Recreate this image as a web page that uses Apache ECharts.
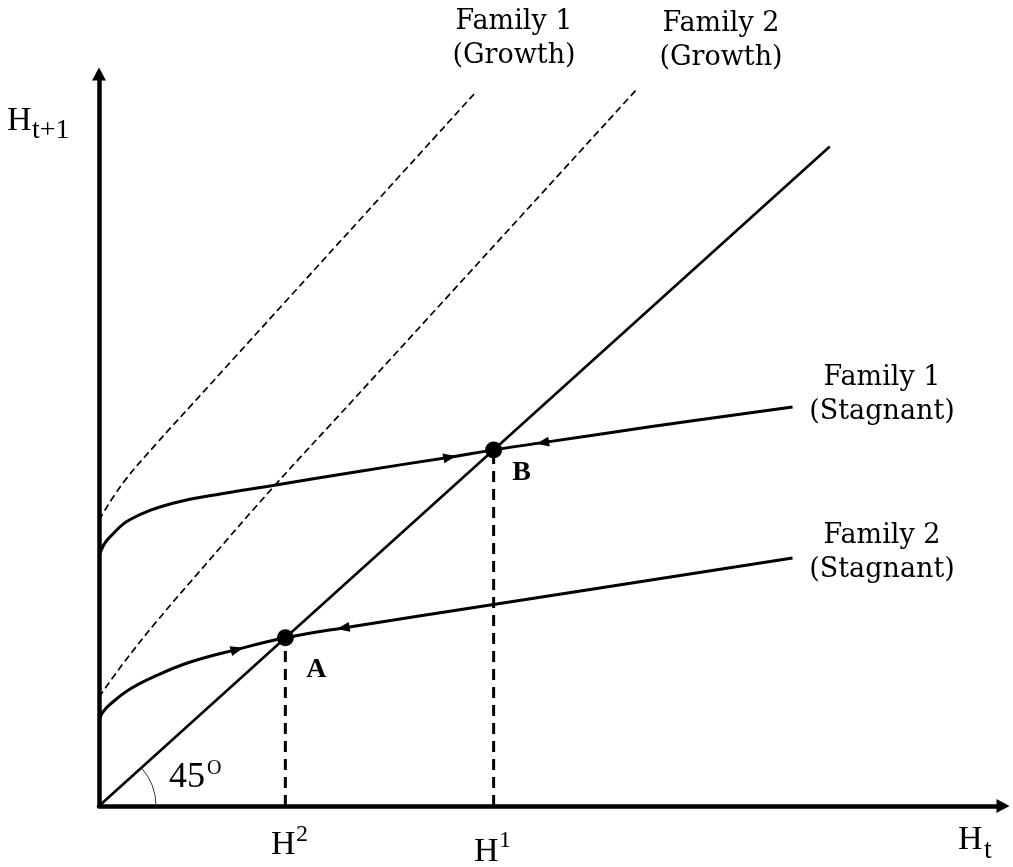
<!DOCTYPE html>
<html>
<head>
<meta charset="utf-8">
<script src="https://cdn.jsdelivr.net/npm/echarts@6/dist/echarts.min.js"></script>
<style>
  html, body { margin: 0; padding: 0; background: #fff; }
  #main { width: 1013px; height: 867px; }
</style>
</head>
<body>
<div id="main"></div>
<script>
// curves, in axis units (45 degree line is y = x)
var fam1Stagnant = [[0, 37.8], [0.6, 39.5], [1.5, 40.8], [4.2, 43.4], [10.1, 45.9], [17.0, 47.4],
  [23.8, 48.6], [35.3, 50.7], [48.0, 52.9], [54, 54], [60.7, 55.1], [75.4, 57.5], [94.9, 60.5]];
var fam2Stagnant = [[0, 13.0], [0.5, 14.2], [1.5, 15.4], [4.2, 17.7], [7.9, 19.8], [12.4, 21.8], [18.9, 23.75],
  [25.5, 25.5], [33.4, 27.0], [54.2, 30.6], [94.9, 37.6]];
var fam1Growth = [[0, 43.4], [3.3, 49.0], [7.9, 55.0], [12.9, 61.1], [51.6, 108.3]];
var fam2Growth = [[0, 16.5], [3.3, 21.6], [7.9, 28.0], [14.8, 36.9], [23.8, 48.3], [34.8, 61.6], [73.6, 108.7]];
var line45 = [[0, 0], [100, 100]];

var pointA = [25.5, 25.5];
var pointB = [54, 54];

// arrowheads on the stagnant curves: [x, y, rotate]
var arrows1 = [[48.0, 52.9, -79], [60.7, 55.1, 99]];
var arrows2 = [[18.9, 23.75, -75], [33.4, 27.0, 99]];

var xMax = 123.7, yMax = 111;

var chart = echarts.init(document.getElementById('main'));

function axisCfg(max) {
  return {
    type: 'value', min: 0, max: max,
    axisLine: {
      show: true, onZero: false,
      symbol: ['none', 'triangle'], symbolSize: [14, 13],
      lineStyle: { color: '#000', width: 4.5 }
    },
    axisTick: { show: false },
    axisLabel: { show: false },
    splitLine: { show: false }
  };
}

function curve(data, width, type) {
  return {
    type: 'line', data: data, smooth: 0.4, symbol: 'none',
    lineStyle: { color: '#000', width: width, type: type }, z: 3
  };
}

function arrowSeries(arr) {
  return {
    type: 'scatter', symbol: 'triangle', symbolSize: [10, 13],
    data: arr.map(function (a) { return { value: [a[0], a[1]], symbolRotate: a[2] }; }),
    itemStyle: { color: '#000', opacity: 1 }, z: 5
  };
}

var serif = 'DejaVu Serif';
var mathFont = 'Liberation Serif';

var option = {
  animation: false,
  grid: { left: 99, top: 74, width: 904, height: 732 },
  xAxis: axisCfg(xMax),
  yAxis: axisCfg(yMax),
  series: [
    curve(line45, 2.6, 'solid'),
    curve(fam1Growth, 1.7, [7, 4]),
    curve(fam2Growth, 1.7, [7, 4]),
    curve(fam1Stagnant, 3, 'solid'),
    curve(fam2Stagnant, 3, 'solid'),
    {
      type: 'line', symbol: 'none', data: [[pointA[0], 0], pointA],
      lineStyle: { color: '#000', width: 3, type: [11, 7] }, z: 2
    },
    {
      type: 'line', symbol: 'none', data: [[pointB[0], 0], pointB],
      lineStyle: { color: '#000', width: 3, type: [11, 7] }, z: 2
    },
    arrowSeries(arrows1),
    arrowSeries(arrows2),
    {
      type: 'scatter', symbol: 'circle', symbolSize: 17, z: 6,
      itemStyle: { color: '#000', opacity: 1 },
      data: [
        { value: pointA, label: { formatter: 'A', offset: [31, 32] } },
        { value: pointB, label: { formatter: 'B', offset: [28, 23] } }
      ],
      label: {
        show: true, position: 'inside', color: '#000',
        fontFamily: mathFont, fontWeight: 'bold', fontSize: 28
      }
    }
  ]
};
chart.setOption(option);

// 45 degree arc and text placed after the grid is laid out
var o = chart.convertToPixel({ gridIndex: 0 }, [0, 0]);
var p = chart.convertToPixel({ gridIndex: 0 }, [100, 100]);
var ang = Math.atan2(o[1] - p[1], p[0] - o[0]);

function txt(x, y, s, size, font, align) {
  return {
    type: 'text', x: x, y: y, z: 10,
    style: {
      text: s, fill: '#000', fontSize: size, fontFamily: font,
      align: align || 'center', verticalAlign: 'middle', lineHeight: 34
    }
  };
}

chart.setOption({
  graphic: [
    {
      type: 'arc', z: 4,
      shape: { cx: o[0], cy: o[1], r: 57, startAngle: -ang, endAngle: 0, clockwise: true },
      style: { stroke: '#333', lineWidth: 1, fill: null }
    },
    txt(514, 39, 'Family 1\n(Growth)', 27, serif),
    txt(721, 41, 'Family 2\n(Growth)', 27, serif),
    txt(882, 395, 'Family 1\n(Stagnant)', 27, serif),
    txt(882, 553, 'Family 2\n(Stagnant)', 27, serif),
    // H_{t+1}
    txt(7, 121, 'H', 34, mathFont, 'left'),
    txt(32, 131, 't+1', 28, mathFont, 'left'),
    // H_t
    txt(958, 840, 'H', 34, mathFont, 'left'),
    txt(984, 851, 't', 28, mathFont, 'left'),
    // H^2
    txt(271, 845, 'H', 34, mathFont, 'left'),
    txt(296, 835, '2', 24, mathFont, 'left'),
    // H^1
    txt(474, 852, 'H', 34, mathFont, 'left'),
    txt(499, 841, '1', 24, mathFont, 'left'),
    // 45^o
    txt(169, 778, '45', 36, mathFont, 'left'),
    txt(207, 769, 'O', 20, mathFont, 'left')
  ]
});
</script>
</body>
</html>
